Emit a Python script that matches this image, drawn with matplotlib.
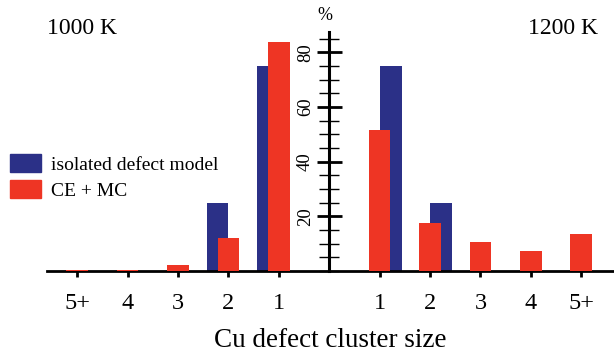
import numpy as np
import matplotlib.pyplot as plt
from matplotlib.ticker import MultipleLocator
from matplotlib.patches import Patch

plt.rcParams["font.family"] = ["Liberation Serif", "DejaVu Serif"]

# cluster sizes, left panel (1000 K) is mirrored
sizes = ["1", "2", "3", "4", "5+"]
iso_1000 = [75, 25, 0, 0, 0]
cemc_1000 = [84, 12, 2.2, 0.5, 0.5]
iso_1200 = [75, 25, 0, 0, 0]
cemc_1200 = [51.5, 17.4, 10.5, 7.2, 13.4]

blue = "#2b3087"
red = "#ee3524"
w = 0.43

fig = plt.figure(figsize=(6.14, 3.62), dpi=100)
ax = fig.add_axes([47 / 614, 91 / 362, 1 - 47 / 614, 239 / 362])

pos = np.arange(1, 6)
ax.bar(-pos - 0.22, iso_1000, w, color=blue, zorder=2)
ax.bar(-pos, cemc_1000, w, color=red, zorder=3)
ax.bar(pos + 0.22, iso_1200, w, color=blue, zorder=2)
ax.bar(pos, cemc_1200, w, color=red, zorder=3)

ax.set_xlim(-5.6, 5.65)
ax.set_ylim(0, 87.5)

for s in ["top", "right"]:
    ax.spines[s].set_visible(False)
ax.spines["left"].set_position(("data", 0))
ax.spines["left"].set_linewidth(2.2)
ax.spines["bottom"].set_linewidth(2.0)

ax.set_xticks(np.concatenate([-pos, pos]))
ax.set_xticklabels(sizes + sizes, fontsize=17.5)
ax.tick_params(axis="x", direction="out", length=4, width=2, pad=12)

ax.yaxis.set_minor_locator(MultipleLocator(5))
ax.set_yticks([20, 40, 60, 80])
ax.set_yticklabels(["20", "40", "60", "80"], rotation=90, va="center", fontsize=13.5)
ax.tick_params(axis="y", which="major", direction="inout", length=18, width=2, pad=2)
ax.tick_params(axis="y", which="minor", direction="inout", length=14, width=1)

ax.set_xlabel("Cu defect cluster size", fontsize=19.5, labelpad=10)

fig.text(82 / 614, 1 - 28 / 362, "1000 K", fontsize=17, ha="center", va="center")
fig.text(563 / 614, 1 - 28 / 362, "1200 K", fontsize=17, ha="center", va="center")
fig.text(325 / 614, 1 - 16 / 362, "%", fontsize=13, ha="center", va="center")

handles = [Patch(color=blue), Patch(color=red)]
fig.legend(handles, ["isolated defect model", "CE + MC"], loc="upper left",
           bbox_to_anchor=(0.004, 1 - 146 / 362), frameon=False, fontsize=14,
           handlelength=1.6, handleheight=1.1, handletextpad=0.5, labelspacing=0.3,
           borderaxespad=0.0)

fig.savefig("out.png", dpi=100)
